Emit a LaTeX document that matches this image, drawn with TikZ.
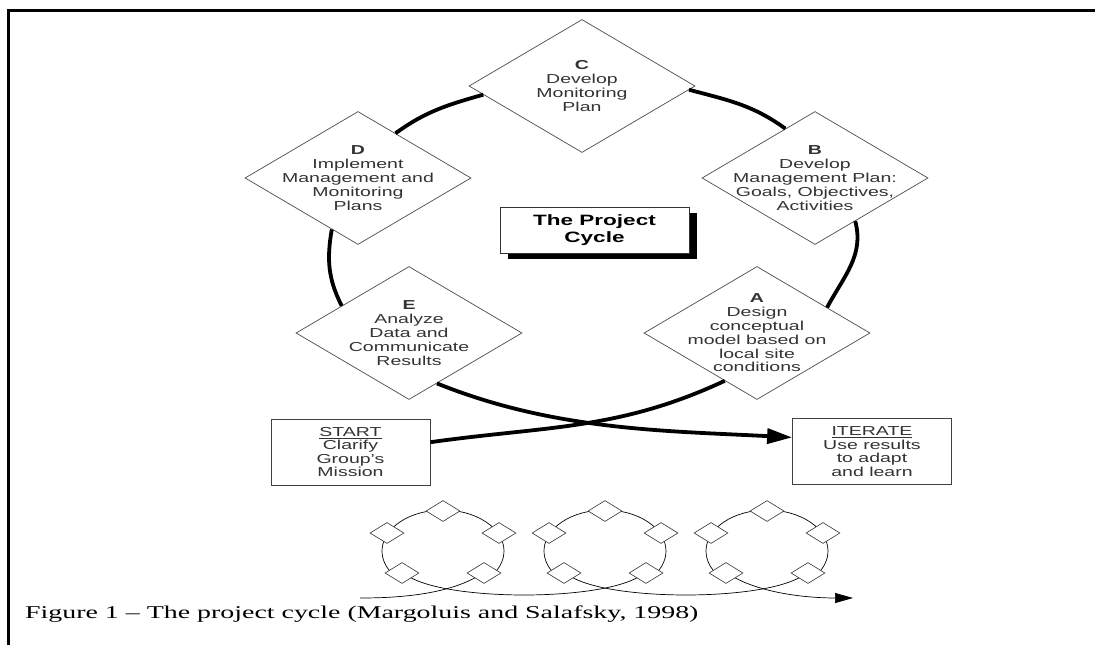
\documentclass[tikz,border=0pt]{standalone}
\usepackage{fontspec}
\setmainfont{Liberation Serif}[FakeStretch=1.55]
\newfontfamily\cyclefont{Liberation Sans}[FakeStretch=1.5]
\usetikzlibrary{arrows.meta,shapes.geometric,shadows}

\begin{document}
\begin{tikzpicture}[x=1pt,y=-1pt,
stage/.style={diamond,draw=black!70,line width=0.7pt,fill=white,inner sep=0pt,minimum width=226pt,minimum height=133pt},
stagetext/.style={align=center,text=black!80,font=\cyclefont\fontsize{13}{13.8}\selectfont},
endbox/.style={draw=black!75,line width=0.8pt,fill=white,minimum width=159pt,minimum height=66pt,align=center,text=black!80,font=\cyclefont\fontsize{13}{13.4}\selectfont},
ring/.style={line width=3.8pt},
mini/.style={diamond,draw=black!80,line width=0.6pt,fill=white,inner sep=0pt,minimum width=34pt,minimum height=21pt},
thread/.style={line width=0.7pt}]
\useasboundingbox (0,0) rectangle (1095,645);
\draw[line width=3pt] (8,645) |- (1095,10);

% the five stages
\node[stage,label={[stagetext]center:{\textbf{C}\\Develop\\Monitoring\\Plan}}] (C) at (582,86) {};
\node[stage,label={[stagetext]center:{\textbf{D}\\Implement\\Management and\\Monitoring\\Plans}}] (D) at (358,178) {};
\node[stage,label={[stagetext]center:{\textbf{B}\\Develop\\Management Plan:\\Goals, Objectives,\\Activities}}] (B) at (815,178) {};
\node[stage,label={[stagetext]center:{\textbf{E}\\Analyze\\Data and\\Communicate\\Results}}] (E) at (409,333) {};
\node[stage,label={[stagetext]center:{\textbf{A}\\Design\\conceptual\\model based on\\local site\\conditions}}] (A) at (757,333) {};
\node[draw=black!80,line width=0.8pt,fill=white,minimum width=189pt,minimum height=46pt,align=center,
  font=\cyclefont\bfseries\fontsize{15}{17}\selectfont,
  drop shadow={shadow xshift=8pt,shadow yshift=-6pt,fill=black,opacity=1}] (title) at (594.5,230) {The Project\\Cycle};
\node[endbox] (start) at (350.5,452) {\underline{START}\\Clarify\\Group’s\\Mission};
\node[endbox] (iterate) at (872,451.5) {\underline{ITERATE}\\Use results\\to adapt\\and learn};

% the ring
\draw[ring] (A.20) to[out=62,in=-75] (B.-47);
\draw[ring] (B.121) to[out=144,in=-15] (C.-2);
\draw[ring] (C.185) to[out=196,in=36] (D.50);
\draw[ring] (D.243) to[out=260,in=117] (E.158);
\draw[ring] (start.7) to[out=8,in=205] (A.236);
\draw[ring,-{Triangle[length=25pt,width=15pt]}] (E.-61) to[out=-22,in=177,looseness=0.9] (iterate.170);

% small cycles
\foreach \i/\cx in {1/443,2/605,3/767}{
  \draw[thread] (\cx,551) ++(-39:61pt and 41pt) arc[start angle=-39,end angle=219,x radius=61pt,y radius=41pt];
  \node[mini] (s\i-c) at (\cx,511) {};
  \node[mini] (s\i-d) at (\cx-56,533) {};
  \node[mini] (s\i-b) at (\cx+56,533) {};
  \node[mini] (s\i-e) at (\cx-41,573) {};
  \node[mini] (s\i-a) at (\cx+41,573) {};
}
\coordinate (lineStart) at (360,598);
\coordinate (lineEnd) at (853,598);
\draw[thread] (lineStart) to[out=0,in=208,looseness=0.8] (s1-a);
\draw[thread] (s1-e) to[out=-28,in=208,looseness=0.55] (s2-a);
\draw[thread] (s2-e) to[out=-28,in=208,looseness=0.55] (s3-a);
\draw[thread,-{Triangle[length=18pt,width=10pt]}] (s3-e) to[out=-28,in=180,looseness=0.8] (lineEnd);

\node[anchor=base west,inner sep=0pt,font=\fontsize{18}{20}\selectfont] (caption) at (25,618)
  {Figure 1 -- The project cycle (Margoluis and Salafsky, 1998)};
\end{tikzpicture}
\end{document}
